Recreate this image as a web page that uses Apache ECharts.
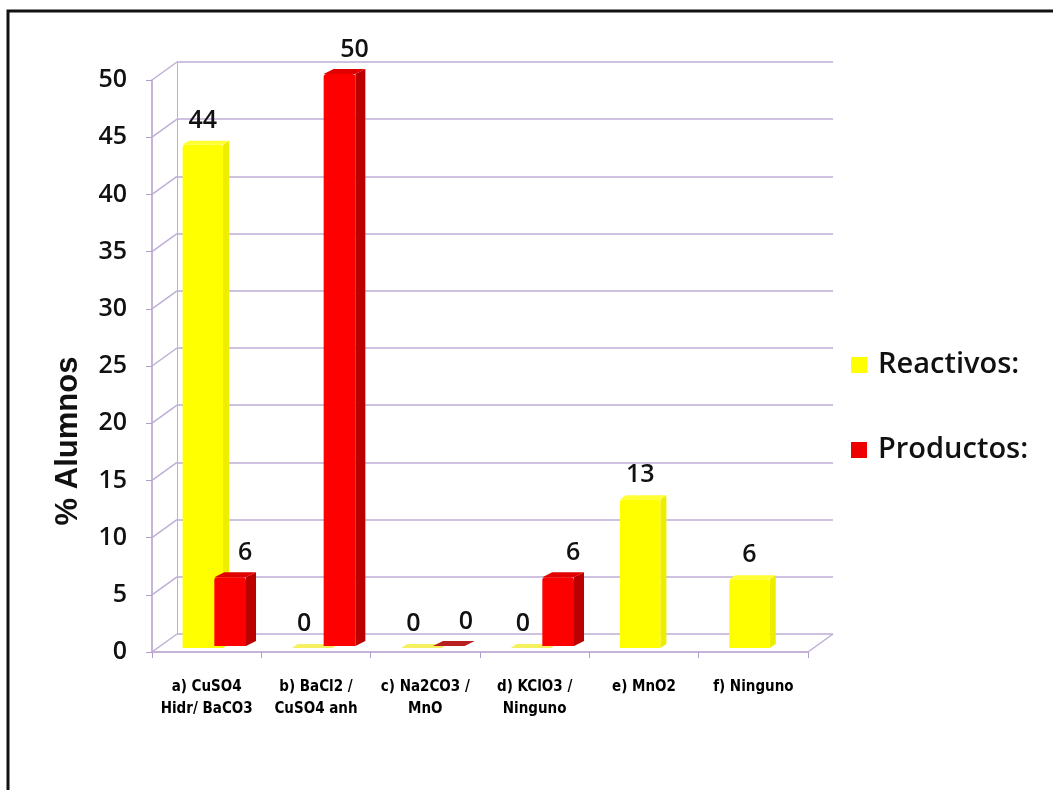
<!DOCTYPE html>
<html>
<head>
<meta charset="utf-8">
<script src="https://cdn.jsdelivr.net/npm/echarts@6/dist/echarts.min.js"></script>
<style>
  html, body { margin: 0; padding: 0; background: #ffffff; }
  #chart { width: 1053px; height: 790px; }
</style>
</head>
<body>
<div id="chart"></div>
<script>
// Categories (compounds asked about) and percentages of students per answer
const categories = [
  'a) CuSO4\nHidr/ BaCO3',
  'b) BaCl2 /\nCuSO4 anh',
  'c) Na2CO3 /\nMnO',
  'd) KClO3 /\nNinguno',
  'e) MnO2',
  'f) Ninguno'
];
const reactivos = [44, 0, 0, 0, 13, 6];
const productos = [6, 50, 0, 6, null, null];
const yTicks = [0, 5, 10, 15, 20, 25, 30, 35, 40, 45, 50];

// Pseudo-3D styling
const WALL = [25, -18];            // offset of the back wall from the front plane
const GRID_LINE = '#BFAED6';
const AXIS_LINE = '#B29CCB';
const LABEL_FONT = '600 25px "Open Sans", Lato, sans-serif';

function barRenderer(cfg) {
  return function (params, api) {
    const i = api.value(0);
    const v = api.value(1);
    const bw = api.size([1, 0])[0];
    const base = api.coord([i, 0]);
    const top = api.coord([i, v]);
    const xs = base[0] - bw / 2;
    const x1 = xs + cfg.from * bw;
    const x2 = xs + cfg.to * bw;
    const yb = base[1] + cfg.lift;
    const yt = top[1] + cfg.lift;
    const dx = cfg.depth[0], dy = cfg.depth[1];
    const children = [];
    if (v > 0) {
      children.push({
        type: 'polygon',
        shape: { points: [[x2, yt], [x2 + dx, yt + dy], [x2 + dx, yb + dy], [x2, yb]] },
        style: { fill: cfg.side }
      });
      children.push({
        type: 'rect',
        shape: { x: x1, y: yt, width: x2 - x1, height: yb - yt, r: [3, 3, 0, 0] },
        style: { fill: cfg.front }
      });
    }
    children.push({
      type: 'polygon',
      shape: { points: [[x1, yt], [x2, yt], [x2 + dx, yt + dy], [x1 + dx, yt + dy]] },
      style: { fill: v > 0 ? cfg.top : cfg.flat }
    });
    children.push({
      type: 'text',
      style: {
        text: String(v),
        x: (x1 + x2) / 2 + cfg.labelDx + (v === 0 ? cfg.zeroDx : 0),
        y: yt - 24,
        align: 'center',
        verticalAlign: 'middle',
        font: LABEL_FONT,
        fill: '#111111'
      }
    });
    return { type: 'group', children: children };
  };
}

function toData(values) {
  const out = [];
  values.forEach(function (v, i) { if (v !== null) out.push([i, v]); });
  return out;
}

const chart = echarts.init(document.getElementById('chart'), null, { renderer: 'canvas' });

chart.setOption({
  animation: false,
  backgroundColor: '#ffffff',
  grid: [
    { left: 152, top: 80, width: 656, height: 572 },
    { left: 152 + WALL[0], top: 80 + WALL[1], width: 656, height: 572 }
  ],
  xAxis: [
    {
      type: 'category', gridIndex: 0, data: categories,
      axisLine: { lineStyle: { color: AXIS_LINE, width: 1.5 } },
      axisTick: { show: true, length: 6, lineStyle: { color: AXIS_LINE } },
      axisLabel: {
        interval: 0, margin: 24, color: '#000000',
        fontFamily: '"Liberation Sans Narrow", "DejaVu Sans Condensed", Arial, sans-serif',
        fontWeight: 'bold', fontSize: 15, lineHeight: 22
      }
    },
    { type: 'category', gridIndex: 1, data: categories, show: false }
  ],
  yAxis: [
    {
      type: 'value', gridIndex: 0, min: 0, max: 50, interval: 5,
      axisLine: { show: true, lineStyle: { color: AXIS_LINE, width: 1.5 } },
      axisTick: { show: true, length: 6, lineStyle: { color: AXIS_LINE } },
      splitLine: { show: false },
      axisLabel: {
        margin: 25, color: '#111111',
        fontFamily: '"Open Sans", Lato, sans-serif', fontWeight: 600, fontSize: 25
      }
    },
    {
      type: 'value', gridIndex: 1, min: 0, max: 50, interval: 5,
      axisLine: { show: true, lineStyle: { color: GRID_LINE } },
      axisTick: { show: false },
      axisLabel: { show: false },
      splitLine: { show: true, lineStyle: { color: GRID_LINE, width: 1.5 } }
    }
  ],
  legend: {
    orient: 'vertical',
    left: 846, top: 343,
    itemWidth: 16, itemHeight: 16, itemGap: 51,
    icon: 'rect',
    data: ['Reactivos:', 'Productos:'],
    textStyle: {
      fontFamily: '"Open Sans", Lato, sans-serif', fontWeight: 600,
      fontSize: 29, lineHeight: 34, color: '#111111', padding: [0, 0, 0, 6]
    }
  },
  graphic: [
    {
      type: 'rect', silent: true,
      shape: { x: 8, y: 11, width: 1100, height: 820 },
      style: { fill: 'none', stroke: '#111111', lineWidth: 3 }
    },
    {
      type: 'text', x: 68, y: 441, rotation: Math.PI / 2, silent: true,
      style: {
        text: '% Alumnos', align: 'center', verticalAlign: 'middle',
        font: 'bold 31px "Liberation Sans", Arial, sans-serif', fill: '#111111'
      }
    }
  ],
  series: [
    {
      // floor and wall edges joining front ticks to the back wall
      type: 'custom', silent: true, xAxisIndex: 0, yAxisIndex: 0, z: 1,
      data: yTicks.map(function (t) { return [0, t]; }),
      renderItem: function (params, api) {
        const cs = params.coordSys;
        const t = api.value(1);
        const y = api.coord([0, t])[1];
        const kids = [{
          type: 'line',
          shape: { x1: cs.x, y1: y, x2: cs.x + WALL[0], y2: y + WALL[1] },
          style: { stroke: GRID_LINE, lineWidth: 1.5 }
        }];
        if (t === 0) {
          kids.push({
            type: 'line',
            shape: { x1: cs.x + cs.width, y1: y, x2: cs.x + cs.width + WALL[0], y2: y + WALL[1] },
            style: { stroke: GRID_LINE, lineWidth: 1.5 }
          });
        }
        return { type: 'group', children: kids };
      }
    },
    {
      name: 'Reactivos:', type: 'custom', xAxisIndex: 0, yAxisIndex: 0, z: 3,
      itemStyle: { color: '#FFFF00' },
      data: toData(reactivos),
      renderItem: barRenderer({
        from: 0.28, to: 0.65, lift: -4, depth: [6, -4],
        front: '#FFFF00', side: '#EDED00', top: '#FFFF33', flat: '#F4F060',
        labelDx: 0, zeroDx: -8
      })
    },
    {
      name: 'Productos:', type: 'custom', xAxisIndex: 0, yAxisIndex: 0, z: 4,
      itemStyle: { color: '#EE0000' },
      data: toData(productos),
      renderItem: barRenderer({
        from: 0.57, to: 0.86, lift: -6, depth: [10, -5],
        front: '#FF0000', side: '#BB0000', top: '#E00000', flat: '#B82020',
        labelDx: 15, zeroDx: 2
      })
    }
  ]
});
</script>
</body>
</html>
